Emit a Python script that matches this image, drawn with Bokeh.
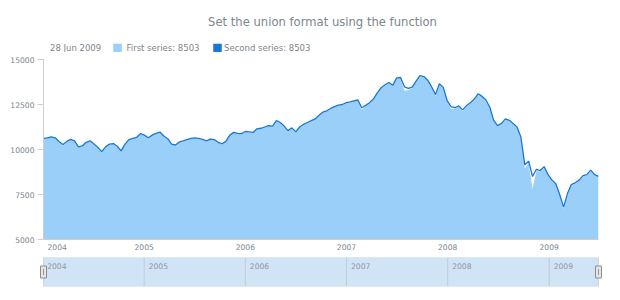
import pandas as pd
from bokeh.plotting import figure
from bokeh.layouts import column, row
from bokeh.models import Range1d, FixedTicker, DatetimeTickFormatter, NumeralTickFormatter
from bokeh.core.properties import value
from bokeh.embed import file_html
from bokeh.resources import INLINE

TITLE = "Set the union format using the function"
LAST_DATE = "2009-06-28"
STEP_DAYS = 14
YEAR_LABELS = ["2004", "2005", "2006", "2007", "2008", "2009"]
Y_TICKS = [5000, 7500, 10000, 12500, 15000]
Y_MIN, Y_MAX = 5000, 15000

# biweekly values, 2004 .. Jun 2009
second_series = [
    10620, 10650, 10700, 10650, 10450, 10280, 10450, 10560, 10480, 10150, 10200, 10400, 10480,
    10300, 10120, 9880, 10150, 10300, 10330, 10180, 9920, 10300, 10550, 10620, 10680, 10880,
    10800, 10650, 10800, 10900, 10970, 10750, 10600, 10300, 10250, 10420, 10480, 10550, 10620,
    10650, 10620, 10560, 10480, 10580, 10550, 10400, 10320, 10450, 10800, 10950, 10900, 10880,
    11000, 10980, 10950, 11150, 11180, 11250, 11320, 11300, 11600, 11500, 11300, 11050, 11200,
    10980, 11250, 11400, 11500, 11600, 11700, 11900, 12080, 12150, 12280, 12380, 12460, 12500,
    12600, 12640, 12700, 12750, 12320, 12450, 12600, 12800, 13150, 13430, 13600, 13720, 13560,
    13980, 14000, 13480, 13400, 13460, 13800, 14100, 14050, 13850, 13480, 13050, 13650, 13450,
    12720, 12380, 12320, 12420, 12200, 12440, 12600, 12800, 13100, 12950, 12750, 12350, 11620,
    11330, 11450, 11700, 11620, 11450, 11250, 10700, 9150, 9350, 8500, 8900, 8830, 9050,
    8600, 8300, 8100, 7500, 6800, 7550, 8050, 8150, 8300, 8550, 8600, 8850, 8600, 8503,
]
first_series = [
    10600, 10640, 10680, 10620, 10430, 10230, 10420, 10540, 10450, 10120, 10180, 10380, 10450,
    10260, 10100, 9850, 10120, 10280, 10300, 10150, 9900, 10280, 10520, 10600, 10650, 10850,
    10770, 10630, 10780, 10880, 10940, 10720, 10570, 10260, 10220, 10400, 10450, 10520, 10600,
    10630, 10590, 10530, 10450, 10560, 10520, 10370, 10290, 10430, 10770, 10930, 10870, 10850,
    10970, 10950, 10920, 11120, 11150, 11230, 11300, 11270, 11570, 11470, 11260, 11000, 11170,
    10940, 11220, 11370, 11480, 11570, 11680, 11870, 12050, 12130, 12250, 12360, 12430, 12480,
    12570, 12610, 12680, 12720, 12220, 12400, 12570, 12770, 13100, 13380, 13560, 13690, 13500,
    13940, 13950, 13250, 13300, 13420, 13760, 14060, 14010, 13800, 13400, 12950, 13600, 13380,
    12680, 12250, 12280, 12380, 12130, 12400, 12560, 12760, 13060, 12900, 12700, 12300, 11580,
    11290, 11400, 11660, 11580, 11400, 11200, 10600, 8950, 9250, 7800, 8800, 8780, 8980,
    8550, 8250, 8050, 7450, 6700, 7480, 7980, 8100, 8260, 8500, 8560, 8800, 8570, 8503,
]

dates = pd.date_range(end=LAST_DATE, periods=len(second_series), freq=f"{STEP_DAYS}D")
year_starts = [pd.Timestamp(f"{y}-01-01") for y in YEAR_LABELS]

FONT = "DejaVu Sans"
GRAY = "#7c868e"
AREA = "#64b5f6"
LINE = "#1976d2"
W = 620
FRAME_L, FRAME_R = 43, 22
FRAME_W = W - FRAME_L - FRAME_R


def ms(ts):
    return ts.value / 1e6


x_start, x_end = dates[0], dates[-1]
span = x_end - x_start

# ---------- header (title + legend) ----------
head = figure(width=W, height=52, x_range=Range1d(0, W), y_range=Range1d(52, 0),
              output_backend="svg", toolbar_location=None,
              x_axis_location=None, y_axis_location=None,
              min_border_left=0, min_border_right=0, min_border_top=0, min_border_bottom=0)
head.grid.visible = False
head.outline_line_color = None
head.text(x=[322], y=[21], text=[TITLE], text_align="center", text_baseline="middle",
          text_font=value(FONT), text_font_size="11.6px", text_color=GRAY)
legend_texts = [dates[-1].strftime("%d %b %Y"),
                f"First series: {first_series[-1]}",
                f"Second series: {second_series[-1]}"]
head.text(x=[49.5, 126, 223.5], y=[47, 47, 47], text=legend_texts, text_align="left",
          text_baseline="middle", text_font=value(FONT), text_font_size="8.5px", text_color=GRAY)
head.rect(x=[117, 217], y=[47.5, 47.5], width=8.5, height=8.7,
          fill_color=[AREA, LINE], fill_alpha=[0.65, 1.0], line_color=None)

# ---------- main chart ----------
main = figure(width=W, height=202, x_axis_type="datetime",
              x_range=Range1d(x_start, x_end), y_range=Range1d(Y_MIN, Y_MAX),
              output_backend="svg", toolbar_location=None,
              min_border_left=FRAME_L, min_border_right=FRAME_R,
              min_border_top=7, min_border_bottom=15)
main.outline_line_color = None
main.grid.visible = False
main.background_fill_color = "white"

main.varea(x=dates, y1=Y_MIN, y2=first_series, fill_color=AREA, fill_alpha=0.65)
main.line(x=dates, y=second_series, line_color=LINE, line_width=1.3)

# first label is pushed right to stay inside the plot, like the reference
first_label_pos = x_start + span * (13.7 / FRAME_W)
xticks = [ms(first_label_pos)] + [ms(t) for t in year_starts[1:]]
xa = main.xaxis[0]
xa.ticker = FixedTicker(ticks=xticks)
fmt = "%Y"
xa.formatter = DatetimeTickFormatter(milliseconds=fmt, seconds=fmt, minsec=fmt, minutes=fmt,
                                     hourmin=fmt, hours=fmt, days=fmt, months=fmt, years=fmt)
xa.major_tick_line_color = None
xa.minor_tick_line_color = None
xa.major_tick_out = 0
xa.major_label_standoff = 4
xa.axis_line_color = "#cecece"
xa.major_label_text_font = FONT
xa.major_label_text_font_size = "7.6px"
xa.major_label_text_color = GRAY

ya = main.yaxis[0]
ya.ticker = FixedTicker(ticks=Y_TICKS)
ya.formatter = NumeralTickFormatter(format="0")
ya.axis_line_color = "#cecece"
ya.major_tick_line_color = "#cecece"
ya.major_tick_out = 6
ya.major_tick_in = 0
ya.minor_tick_line_color = None
ya.major_label_standoff = 3
ya.major_label_text_font = FONT
ya.major_label_text_font_size = "7.6px"
ya.major_label_text_color = GRAY

# ---------- scroller ----------
pad = span * (10 / FRAME_W)
scr = figure(width=W, height=46, x_axis_type="datetime",
             x_range=Range1d(x_start - pad, x_end + pad), y_range=Range1d(0, 1),
             output_backend="svg", toolbar_location=None,
             x_axis_location=None, y_axis_location=None,
             min_border_left=FRAME_L - 10, min_border_right=FRAME_R - 10,
             min_border_top=3, min_border_bottom=14)
scr.grid.visible = False
scr.outline_line_color = None
scr.quad(left=[x_start], right=[x_end], bottom=[0], top=[1],
         fill_color="#d1e4f6", line_color="#c9d5e1", line_width=1)
scr.segment(x0=year_starts[1:], y0=0, x1=year_starts[1:], y1=1,
            line_color="#c3cbd3", line_width=1)
scr.text(x=year_starts, y=0.72, text=YEAR_LABELS, x_offset=4.5, text_align="left",
         text_baseline="middle", text_font=value(FONT), text_font_size="7.6px",
         text_color="#8d969e")
scr.rect(x=[x_start, x_end], y=[0.5, 0.5], width=6, height=12,
         width_units="screen", height_units="screen",
         fill_color="#e4e4e4", line_color="#8f8f8f", line_width=1)
scr.rect(x=[x_start, x_end], y=[0.5, 0.5], width=1, height=6,
         width_units="screen", height_units="screen",
         fill_color="#9a9a9a", line_color=None)

# wrap header and scroller so their frames are not aligned to the main chart's frame
layout = column(row(head), main, row(scr))
open("out.html", "w").write(file_html(layout, INLINE))
